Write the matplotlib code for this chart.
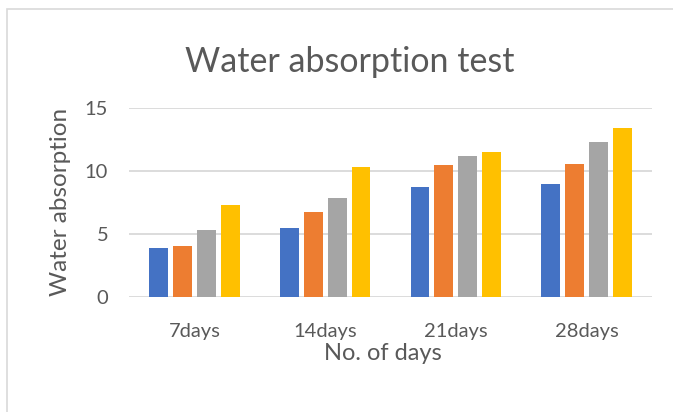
import numpy as np
import matplotlib.pyplot as plt
from matplotlib.patches import Rectangle

plt.rcParams['font.family'] = ['Lato', 'DejaVu Sans']

# data
days = ['7days', '14days', '21days', '28days']
series_1 = [3.86, 5.45, 8.70, 8.94]
series_2 = [4.02, 6.72, 10.45, 10.53]
series_3 = [5.29, 7.83, 11.16, 12.28]
series_4 = [7.28, 10.29, 11.48, 13.39]
colors = ['#4472c4', '#ed7d31', '#a5a5a5', '#ffc000']
text_col = '#595959'

fig = plt.figure(figsize=(6.73, 4.12), dpi=100)
fig.patches.append(Rectangle((7 / 673, -0.1), 1.0, 1.0 - 9 / 412 + 0.1,
                             transform=fig.transFigure, fill=False,
                             edgecolor='#d9d9d9', linewidth=1.2))
ax = fig.add_axes([129 / 673, 1 - 297 / 412, 523 / 673, (297 - 107.7) / 412])

x = np.arange(len(days))
step = 0.183
width = 0.145
for i, vals in enumerate([series_1, series_2, series_3, series_4]):
    ax.bar(x + (i - 1.5) * step, vals, width, color=colors[i], zorder=3)

ax.set_xlim(-0.5, 3.5)
ax.set_ylim(0, 15)
ax.set_yticks([0, 5, 10, 15])
ax.set_xticks(x)
ax.set_xticklabels(days)
ax.yaxis.grid(True, color='#d9d9d9', linewidth=1.3, zorder=0)
for s in ax.spines.values():
    s.set_visible(False)
ax.tick_params(length=0, labelsize=14.5, labelcolor=text_col)
ax.tick_params(axis='y', pad=15)
ax.tick_params(axis='x', pad=19)

ax.set_xlabel('No. of days', fontsize=17, color=text_col)
ax.xaxis.set_label_coords(0.485, -0.245)
ax.set_ylabel('Water absorption', fontsize=17.5, color=text_col, labelpad=10)
fig.text(350 / 673, 1 - 62 / 412, 'Water absorption test', fontsize=24.5,
         color=text_col, ha='center', va='center')

fig.savefig('out.png', dpi=100)
